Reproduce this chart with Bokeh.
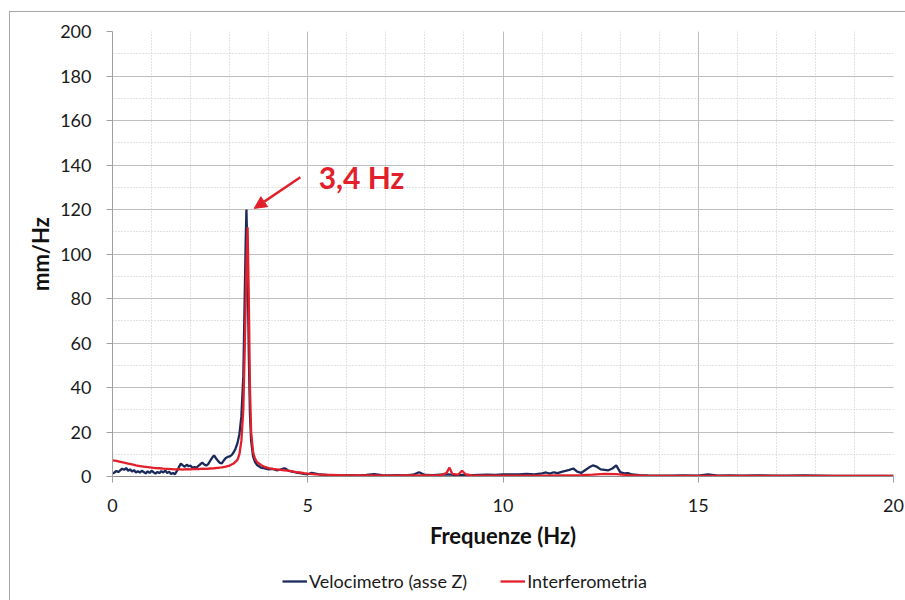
from bokeh.plotting import figure
from bokeh.layouts import column
from bokeh.models import (SingleIntervalTicker, Range1d, Legend, LegendItem,
                          Arrow, NormalHead, Label)
from bokeh.embed import file_html
from bokeh.resources import INLINE

# ---- data ----
vel_freq = [0.00, 0.05, 0.10, 0.15, 0.20, 0.25, 0.30, 0.35, 0.40, 0.45,
            0.50, 0.55, 0.60, 0.65, 0.70, 0.75, 0.80, 0.85, 0.90, 0.95,
            1.00, 1.05, 1.10, 1.15, 1.20, 1.25, 1.30, 1.35, 1.40, 1.45,
            1.50, 1.55, 1.60, 1.65, 1.70, 1.75, 1.80, 1.85, 1.90, 1.95,
            2.00, 2.05, 2.10, 2.15, 2.20, 2.25, 2.30, 2.35, 2.40, 2.45,
            2.50, 2.55, 2.60, 2.65, 2.70, 2.75, 2.80, 2.85, 2.90, 2.95,
            3.00, 3.05, 3.10, 3.15, 3.20, 3.25, 3.30, 3.35, 3.38, 3.41,
            3.43, 3.46, 3.49, 3.52, 3.55, 3.60, 3.65, 3.70, 3.75, 3.80,
            3.90, 4.00, 4.10, 4.20, 4.30, 4.40, 4.45, 4.50, 4.60, 4.70,
            4.80, 4.90, 5.00, 5.10, 5.20, 5.30, 5.50, 5.70, 5.90, 6.10,
            6.30, 6.50, 6.70, 6.90, 7.10, 7.30, 7.50, 7.70, 7.85, 8.00,
            8.20, 8.40, 8.60, 8.80, 9.00, 9.20, 9.40, 9.60, 9.80, 10.0,
            10.2, 10.4, 10.6, 10.8, 11.0, 11.1, 11.2, 11.3, 11.4, 11.5,
            11.6, 11.7, 11.8, 11.9, 12.0, 12.1, 12.2, 12.3, 12.4, 12.5,
            12.6, 12.7, 12.8, 12.9, 13.0, 13.1, 13.2, 13.3, 13.5, 13.7,
            14.0, 14.3, 14.6, 15.0, 15.25, 15.5, 15.8, 16.1, 16.5, 16.9,
            17.3, 17.7, 18.1, 18.5, 19.0, 19.5, 20.0]
vel_vals = [1.3, 1.8, 2.5, 2.0, 2.8, 3.5, 3.0, 3.8, 2.6, 3.2,
            2.2, 2.9, 1.8, 2.4, 1.7, 2.6, 2.0, 1.4, 2.3, 1.6,
            2.6, 1.9, 1.3, 2.1, 1.5, 2.4, 1.8, 2.7, 1.6, 2.2,
            1.1, 1.6, 1.0, 2.5, 4.2, 5.8, 5.0, 4.4, 5.3, 4.6,
            4.9, 3.8, 4.3, 3.9, 4.8, 5.5, 6.2, 5.4, 4.9, 5.6,
            7.0, 8.4, 9.5, 8.2, 7.0, 6.1, 5.9, 7.2, 8.3, 8.8,
            9.0, 9.6, 10.8, 12.5, 15.0, 19.0, 27.0, 45.0, 75.0, 105.0,
            120.0, 95.0, 55.0, 28.0, 16.0, 9.0, 6.5, 5.2, 4.6, 4.0,
            3.6, 3.2, 3.4, 2.8, 3.1, 3.7, 3.3, 2.6, 2.2, 1.8,
            1.5, 1.2, 1.0, 1.6, 1.3, 0.9, 0.7, 0.6, 0.5, 0.6,
            0.5, 0.7, 1.1, 0.6, 0.5, 0.6, 0.5, 0.8, 1.9, 0.7,
            0.6, 0.8, 1.0, 0.6, 0.7, 0.6, 0.7, 0.8, 0.7, 0.9,
            1.0, 0.9, 1.2, 1.0, 1.4, 1.8, 1.3, 1.9, 1.5, 2.1,
            2.5, 3.0, 3.6, 2.2, 1.6, 2.8, 4.0, 5.0, 4.4, 3.2,
            3.0, 2.8, 3.6, 5.0, 2.0, 1.4, 1.5, 0.9, 0.6, 0.5,
            0.4, 0.4, 0.5, 0.4, 1.0, 0.4, 0.5, 0.4, 0.5, 0.4,
            0.4, 0.5, 0.4, 0.3, 0.3, 0.3, 0.3]

int_freq = [0.00, 0.10, 0.20, 0.30, 0.40, 0.50, 0.60, 0.70, 0.80, 0.90,
            1.00, 1.10, 1.20, 1.30, 1.40, 1.50, 1.60, 1.70, 1.80, 1.90,
            2.00, 2.10, 2.20, 2.30, 2.40, 2.50, 2.60, 2.70, 2.80, 2.90,
            3.00, 3.10, 3.20, 3.25, 3.30, 3.35, 3.39, 3.43, 3.46, 3.49,
            3.52, 3.55, 3.60, 3.65, 3.70, 3.80, 3.90, 4.00, 4.10, 4.20,
            4.30, 4.40, 4.50, 4.60, 4.70, 4.80, 4.90, 5.00, 5.20, 5.40,
            5.60, 5.80, 6.00, 6.50, 7.00, 7.50, 8.00, 8.40, 8.55, 8.63,
            8.70, 8.85, 8.95, 9.05, 9.20, 9.60, 10.0, 10.5, 11.0, 11.5,
            12.0, 12.3, 12.6, 12.9, 13.2, 13.6, 14.0, 15.0, 16.0, 17.0,
            18.0, 19.0, 20.0]
int_vals = [7.2, 7.0, 6.6, 6.2, 5.8, 5.4, 5.0, 4.7, 4.4, 4.2,
            4.0, 3.8, 3.7, 3.5, 3.4, 3.3, 3.2, 3.3, 3.1, 3.3,
            3.2, 3.4, 3.3, 3.5, 3.4, 3.6, 3.7, 3.9, 4.1, 4.4,
            4.9, 5.8, 7.5, 10.0, 16.0, 30.0, 60.0, 95.0, 112.0, 80.0,
            40.0, 20.0, 11.0, 8.0, 6.5, 5.2, 4.3, 3.8, 3.4, 3.2,
            3.0, 2.8, 2.6, 2.3, 2.0, 1.8, 1.5, 1.3, 1.0, 0.8,
            0.7, 0.6, 0.5, 0.5, 0.4, 0.5, 0.5, 0.6, 1.5, 4.0,
            1.2, 0.8, 2.6, 0.9, 0.5, 0.4, 0.4, 0.4, 0.4, 0.5,
            0.6, 0.8, 1.2, 1.1, 0.6, 0.4, 0.3, 0.3, 0.3, 0.3,
            0.3, 0.3, 0.3]

series_names = ["Velocimetro (asse Z)", "Interferometria"]
annotation_text = "3,4 Hz"
x_label = "Frequenze (Hz)"
y_label = "mm/Hz"

NAVY = "#1B2A5A"
RED = "#E2202B"
FONT = "Lato"
LW = 2.3

p = figure(width=895, height=554, x_range=Range1d(0, 20), y_range=Range1d(0, 200),
           output_backend="svg", toolbar_location=None,
           min_border_left=102, min_border_right=12,
           min_border_top=19, min_border_bottom=90)
p.outline_line_color = None
p.background_fill_color = "white"
p.border_fill_color = "white"

p.xaxis.ticker = SingleIntervalTicker(interval=5, num_minor_ticks=5)
p.yaxis.ticker = SingleIntervalTicker(interval=20, num_minor_ticks=2)

for g in (p.xgrid, p.ygrid):
    g.grid_line_color = "#BEBEBE"
    g.grid_line_width = 1
    g.minor_grid_line_color = "#C4C4C4"
    g.minor_grid_line_dash = "1 2"
    g.minor_grid_line_width = 1

for ax in (p.xaxis, p.yaxis):
    ax.axis_line_color = "#A0A0A0"
    ax.major_tick_line_color = "#A0A0A0"
    ax.major_tick_out = 6
    ax.major_tick_in = 0
    ax.minor_tick_line_color = None
    ax.major_label_text_font = FONT
    ax.major_label_text_font_size = "18px"
    ax.major_label_text_color = "#1A1A1A"
    ax.axis_label_text_font = FONT
    ax.axis_label_text_font_size = "22px"
    ax.axis_label_text_font_style = "bold"
    ax.axis_label_text_color = "#111111"

p.xaxis.axis_line_color = "#8A8A8A"
p.xaxis.axis_label = x_label
p.yaxis.axis_label = y_label
p.yaxis.major_label_standoff = 15
p.xaxis.major_label_standoff = 16
p.yaxis.axis_label_standoff = 3
p.xaxis.axis_label_standoff = 7

r_vel = p.line(vel_freq, vel_vals, line_color=NAVY, line_width=LW)
r_int = p.line(int_freq, int_vals, line_color=RED, line_width=LW)

# annotation arrow and label
p.add_layout(Arrow(end=NormalHead(size=12, line_color=RED, fill_color=RED),
                   x_start=4.81, y_start=134.5, x_end=3.63, y_end=120.5,
                   line_color=RED, line_width=2.5))
p.add_layout(Label(x=5.28, y=134.5, text=annotation_text, text_color=RED,
                   text_font=FONT, text_font_style="bold", text_font_size="30px",
                   text_baseline="middle"))

# legend strip under the chart (series drawn outside its visible range,
# only the legend glyphs show)
lf = figure(width=895, height=34, x_range=Range1d(0, 1), y_range=Range1d(-3, -2),
            output_backend="svg", toolbar_location=None,
            x_axis_location=None, y_axis_location=None, min_border=0)
lf.grid.visible = False
lf.outline_line_color = None
lf.border_fill_color = "white"
lf.background_fill_color = "white"
k_vel = lf.line(vel_freq, vel_vals, line_color=NAVY, line_width=LW)
k_int = lf.line(int_freq, int_vals, line_color=RED, line_width=LW)
leg = Legend(items=[LegendItem(label=series_names[0], renderers=[k_vel]),
                    LegendItem(label=series_names[1], renderers=[k_int])],
             location=(170, 8), orientation="horizontal",
             padding=0, margin=0, spacing=33, border_line_color=None,
             background_fill_alpha=0, glyph_width=25, label_standoff=2,
             label_text_font=FONT, label_text_font_size="18px",
             label_text_color="#1A1A1A")
lf.add_layout(leg, "center")

layout = column(p, lf, margin=(11, 0, 0, 9), spacing=0,
                styles={"border-left": "1px solid #A6A6A6",
                        "border-top": "1px solid #A6A6A6"})

open("out.html", "w").write(file_html(layout, INLINE))
